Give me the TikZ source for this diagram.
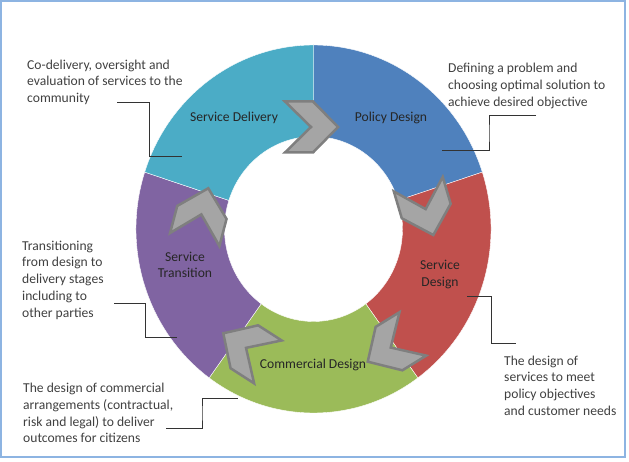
\documentclass[tikz,border=0pt]{standalone}
\usepackage{fontspec}
\setmainfont{Carlito}
\usetikzlibrary{calc}
\definecolor{policyblue}{HTML}{4F81BD}
\definecolor{designred}{HTML}{C0504D}
\definecolor{commgreen}{HTML}{9BBB59}
\definecolor{transpurple}{HTML}{8064A2}
\definecolor{delivcyan}{HTML}{4BACC6}
\definecolor{chevfill}{HTML}{A5A5A5}
\definecolor{chevline}{HTML}{7F7F7F}
\definecolor{framecol}{HTML}{8DB4E2}
\tikzset{
  seglabel/.style={font=\fontsize{13.6}{16.8}\selectfont,text=black!85,inner sep=0pt,align=center},
  note/.style={font=\fontsize{13.6}{16.8}\selectfont,text=black!75,inner sep=0pt,align=left,anchor=north west},
  leader/.style={draw=black!80,line width=1pt},
  elbow/.style={to path={-| ($(\tikztostart)!0.5!(\tikztotarget)$) |- (\tikztotarget)}},
  chev/.style={fill=chevfill,draw=chevline,line width=2.5pt,line join=miter},
}
\begin{document}
\begin{tikzpicture}[x=1pt,y=-1pt]
    \useasboundingbox (0,0) rectangle (629,462);
    %% frame
    \draw[framecol,line width=2pt] (1,1) rectangle (625,457);
    %% ring
    \begin{scope}[shift={(313.5,229)},yscale=-1]
        \foreach \a/\b/\c in {90/18/policyblue,18/-54/designred,-54/-126/commgreen,-126/-198/transpurple,-198/-270/delivcyan}
            \fill[\c,draw=white,line width=0.4pt] (\a:177.5 and 184) arc[start angle=\a,end angle=\b,x radius=177.5,y radius=184]
                -- (\b:89 and 92.5) arc[start angle=\b,end angle=\a,x radius=89,y radius=92.5] -- cycle;
    \end{scope}
    %% leader lines
    \coordinate (delivnote) at (117,103);
    \coordinate (delivseg) at (182,157);
    \coordinate (policynote) at (536,116);
    \coordinate (policyseg) at (442,151);
    \coordinate (transnote) at (114,304);
    \coordinate (transseg) at (177,337);
    \coordinate (commnote) at (166,428);
    \coordinate (commseg) at (238,398);
    \coordinate (designseg) at (467,297);
    \coordinate (designnote) at (516,343);
    \draw[leader] (delivnote) to[elbow] (delivseg);
    \draw[leader] (policynote) to[elbow] (policyseg);
    \draw[leader] (transnote) to[elbow] (transseg);
    \draw[leader] (commnote) to[elbow] (commseg);
    \draw[leader] (designseg) to[elbow] (designnote);
    %% segment labels
    \node[seglabel,anchor=base] (policy) at (391,122) {Policy Design};
    \node[seglabel,anchor=base] (delivery) at (234,122) {Service Delivery};
    \node[seglabel,anchor=north] (design) at (440,260) {Service\\Design};
    \node[seglabel,anchor=north] (transition) at (185,251.5) {Service\\Transition};
    \node[seglabel,anchor=base] (commercial) at (313,368) {Commercial Design};
    %% chevrons
    \foreach \x/\y/\r in {311.5/127/0,425.8/209.6/-73.5,390.3/347.8/-148.4,245.6/347.6/147.3,201.5/213.9/75.2}
        \draw[chev,shift={(\x,\y)},rotate=\r] (-26.5,25.5) -- (1.5,25.5) -- (26.5,0) -- (1.5,-25.5) -- (-26.5,-25.5) -- (-0.5,0) -- cycle;
    %% notes
    \node[note] (delivtext) at (27,59.5) {Co-delivery, oversight and\\evaluation of services to the\\community};
    \node[note] (policytext) at (448,62.8) {Defining a problem and\\choosing optimal solution to\\achieve desired objective};
    \node[note] (transtext) at (22,240.5) {Transitioning\\from design to\\delivery stages\\including to\\other parties};
    \node[note] (commtext) at (23,382.8) {The design of commercial\\arrangements (contractual,\\risk and legal) to deliver\\outcomes for citizens};
    \node[note] (designtext) at (504,355.5) {The design of\\services to meet\\policy objectives\\and customer needs};
\end{tikzpicture}
\end{document}
